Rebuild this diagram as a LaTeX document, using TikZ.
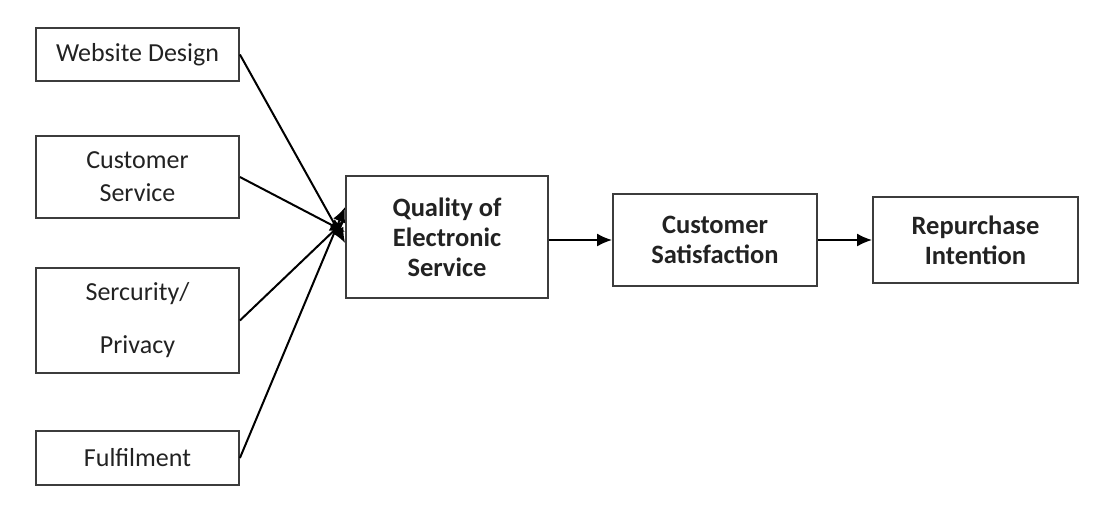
\documentclass[tikz,border=0pt]{standalone}
\usepackage{fontspec}
\setmainfont{Carlito}
\definecolor{boxstroke}{HTML}{3C3C3C}
\definecolor{textgray}{HTML}{222222}
\usepackage{tikz}
\usetikzlibrary{arrows.meta, positioning, calc}

\begin{document}
\begin{tikzpicture}[x=1pt, y=-1pt, >={Latex[length=15pt, width=13pt]},
  dimbox/.style={draw=boxstroke, text=textgray, line width=1.8pt, minimum width=203pt, align=center,
    font=\fontsize{26}{33}\selectfont},
  mainbox/.style={dimbox, font=\fontsize{26.5}{30}\selectfont\bfseries},
  link/.style={->, line width=2pt}]
  \useasboundingbox (0,0) rectangle (1110,509);

  % Dimensions
  \node[dimbox, minimum height=53pt] (web) at (137.5, 54.5) {Website Design};
  \node[dimbox, minimum height=82pt] (cust) at (137.5, 177) {Customer\\Service};
  \node[dimbox, minimum height=105pt] (sec) at (137.5, 320.5) {Sercurity/\\[20pt]Privacy};
  \node[dimbox, minimum height=54pt] (ful) at (137.5, 458) {Fulfilment};

  % Chain
  \node[mainbox, minimum width=202pt, minimum height=122pt] (qual) at (447, 237) {Quality of\\Electronic\\Service};
  \node[mainbox, minimum width=204pt, minimum height=92pt] (sat) at (715, 240) {Customer\\Satisfaction};
  \node[mainbox, minimum width=205pt, minimum height=86pt] (rep) at (975.5, 240) {Repurchase\\Intention};

  \draw[link] (web.east) -- ([yshift=-6pt]qual.west);
  \draw[link] (cust.east) -- ([yshift=5pt]qual.west);
  \draw[link] (sec.east) -- ([yshift=17pt]qual.west);
  \draw[link] (ful.east) -- ([yshift=30pt]qual.west);
  \draw[link] (qual.east |- sat.west) -- (sat.west);
  \draw[link] (sat.east) -- (rep.west);
\end{tikzpicture}
\end{document}
